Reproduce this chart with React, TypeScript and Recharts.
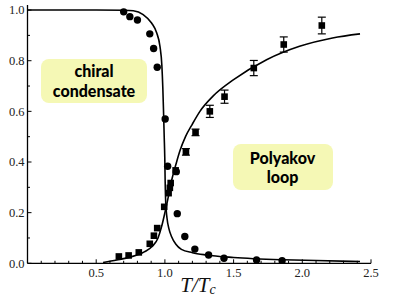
import { ComposedChart, Line, Scatter, XAxis, YAxis, ErrorBar } from "recharts";

// solid model curves (T / Tc, value)
const chiralCurve = [
  { T: 0, v: 1.0 },
  { T: 0.5, v: 1.0 },
  { T: 0.7, v: 0.999 },
  { T: 0.77, v: 0.997 },
  { T: 0.842, v: 0.982 },
  { T: 0.903, v: 0.949 },
  { T: 0.94, v: 0.91 },
  { T: 0.964, v: 0.857 },
  { T: 0.978, v: 0.78 },
  { T: 0.985, v: 0.69 },
  { T: 0.99, v: 0.6 },
  { T: 0.995, v: 0.5 },
  { T: 0.999, v: 0.42 },
  { T: 1.002, v: 0.32 },
  { T: 1.006, v: 0.24 },
  { T: 1.015, v: 0.18 },
  { T: 1.03, v: 0.135 },
  { T: 1.048, v: 0.106 },
  { T: 1.08, v: 0.075 },
  { T: 1.12, v: 0.055 },
  { T: 1.2, v: 0.042 },
  { T: 1.3, v: 0.033 },
  { T: 1.5, v: 0.023 },
  { T: 1.86, v: 0.014 },
  { T: 2.1, v: 0.011 },
  { T: 2.42, v: 0.007 },
];

const polyakovCurve = [
  { T: 0.55, v: 0.003 },
  { T: 0.65, v: 0.013 },
  { T: 0.75, v: 0.025 },
  { T: 0.85, v: 0.045 },
  { T: 0.91, v: 0.068 },
  { T: 0.95, v: 0.1 },
  { T: 0.976, v: 0.145 },
  { T: 1.0, v: 0.2 },
  { T: 1.02, v: 0.25 },
  { T: 1.05, v: 0.33 },
  { T: 1.08, v: 0.39 },
  { T: 1.11, v: 0.445 },
  { T: 1.15, v: 0.5 },
  { T: 1.2, v: 0.55 },
  { T: 1.255, v: 0.6 },
  { T: 1.35, v: 0.66 },
  { T: 1.5, v: 0.725 },
  { T: 1.74, v: 0.804 },
  { T: 1.98, v: 0.857 },
  { T: 2.22, v: 0.89 },
  { T: 2.42, v: 0.906 },
];

// lattice points
const chiralPoints = [
  { T: 0.7, v: 0.993 },
  { T: 0.745, v: 0.974 },
  { T: 0.8, v: 0.961 },
  { T: 0.89, v: 0.906 },
  { T: 0.918, v: 0.848 },
  { T: 0.944, v: 0.774 },
  { T: 1.002, v: 0.57 },
  { T: 1.02, v: 0.383 },
  { T: 1.083, v: 0.362 },
  { T: 1.09, v: 0.196 },
  { T: 1.145, v: 0.106 },
  { T: 1.218, v: 0.056 },
  { T: 1.318, v: 0.033 },
  { T: 1.43, v: 0.02 },
  { T: 1.667, v: 0.013 },
  { T: 1.853, v: 0.01 },
];

const polyakovPoints = [
  { T: 0.665, v: 0.027, err: 0 },
  { T: 0.736, v: 0.031, err: 0 },
  { T: 0.81, v: 0.043, err: 0 },
  { T: 0.89, v: 0.077, err: 0 },
  { T: 0.92, v: 0.109, err: 0 },
  { T: 0.944, v: 0.139, err: 0 },
  { T: 0.995, v: 0.223, err: 0 },
  { T: 1.027, v: 0.277, err: 0 },
  { T: 1.036, v: 0.298, err: 0 },
  { T: 1.042, v: 0.317, err: 0 },
  { T: 1.078, v: 0.367, err: 0 },
  { T: 1.153, v: 0.44, err: 0.013 },
  { T: 1.223, v: 0.517, err: 0.013 },
  { T: 1.327, v: 0.6, err: 0.024 },
  { T: 1.434, v: 0.658, err: 0.026 },
  { T: 1.647, v: 0.771, err: 0.03 },
  { T: 1.865, v: 0.864, err: 0.03 },
  { T: 2.142, v: 0.939, err: 0.033 },
];

const xTicks = [
  0, 0.1, 0.2, 0.3, 0.4, 0.5, 0.6, 0.7, 0.8, 0.9, 1.0, 1.1, 1.2, 1.3, 1.4,
  1.5, 1.6, 1.7, 1.8, 1.9, 2.0, 2.1, 2.2, 2.3, 2.4, 2.5,
];
const xLabels = [0.5, 1.0, 1.5, 2.0, 2.5];
const yTicks = [0, 0.1, 0.2, 0.3, 0.4, 0.5, 0.6, 0.7, 0.8, 0.9, 1.0];
const yLabels = [0, 0.2, 0.4, 0.6, 0.8, 1.0];

const serif = "'Liberation Serif', 'Times New Roman', serif";
const inList = (list: number[], v: number) => list.some((t) => Math.abs(t - v) < 1e-6);

function BottomTick({ x, y, payload }: any) {
  const major = inList(xLabels, payload.value);
  return (
    <g>
      <line x1={x} x2={x} y1={y} y2={y - (major ? 4 : 2.5)} stroke="#000" />
      {major && (
        <text x={x} y={y + 13.5} textAnchor="middle" fontFamily={serif} fontSize={12.5} fill="#222">
          {payload.value.toFixed(1)}
        </text>
      )}
    </g>
  );
}

function TopTick({ x, y, payload }: any) {
  const major = inList(xLabels, payload.value);
  return <line x1={x} x2={x} y1={y} y2={y + (major ? 4 : 2.5)} stroke="#000" />;
}

function LeftTick({ x, y, payload }: any) {
  const major = inList(yLabels, payload.value);
  return (
    <g>
      <line x1={x} x2={x + (major ? 4 : 2.5)} y1={y} y2={y} stroke="#000" />
      {major && (
        <text x={x - 3} y={y + 4.3} textAnchor="end" fontFamily={serif} fontSize={12.5} fill="#222">
          {payload.value.toFixed(1)}
        </text>
      )}
    </g>
  );
}

function RightTick({ x, y, payload }: any) {
  const major = inList(yLabels, payload.value);
  return <line x1={x} x2={x - (major ? 4 : 3)} y1={y} y2={y} stroke="#000" />;
}

const Dot = (p: any) => <circle cx={p.cx} cy={p.cy} r={3.7} fill="#000" />;
const Square = (p: any) => (
  <rect x={p.cx - 3.3} y={p.cy - 3.3} width={6.6} height={6.6} fill="#000" />
);

const boxStyle: React.CSSProperties = {
  position: "absolute",
  background: "#f5f8b5",
  borderRadius: 8,
  display: "flex",
  flexDirection: "column",
  alignItems: "center",
  justifyContent: "center",
  textAlign: "center",
  fontFamily: "Lato, 'Open Sans', sans-serif",
  fontWeight: 900,
  fontSize: 16,
  lineHeight: "19.5px",
  color: "#000",
};

export default function App() {
  return (
    <div style={{ position: "absolute", left: 0, top: 0, width: 398, height: 299, background: "#fff" }}>
      <ComposedChart width={398} height={299} margin={{ top: 5, right: 27, left: 0, bottom: 0 }}>
        <XAxis
          dataKey="T"
          type="number"
          domain={[0, 2.5]}
          ticks={xTicks}
          interval={0}
          allowDataOverflow
          height={35.7}
          tickSize={0}
          tickMargin={0}
          tickLine={false}
          tick={<BottomTick />}
          axisLine={{ stroke: "#000", strokeWidth: 1.3 }}
          label={{
            content: () => (
              <text x={198} y={292} textAnchor="middle" fontFamily={serif} fontStyle="italic" fontSize={21} fill="#111">
                T/T
                <tspan fontSize={14} dy={2}>c</tspan>
              </text>
            ),
          }}
        />
        <XAxis
          xAxisId="top"
          orientation="top"
          type="number"
          domain={[0, 2.5]}
          ticks={xTicks}
          interval={0}
          allowDataOverflow
          height={0}
          tickSize={0}
          tickMargin={0}
          tickLine={false}
          tick={<TopTick />}
          axisLine={{ stroke: "#000", strokeWidth: 1.3 }}
        />
        <YAxis
          dataKey="v"
          type="number"
          domain={[0, 1.02]}
          ticks={yTicks}
          interval={0}
          allowDataOverflow
          width={27.5}
          tickSize={0}
          tickMargin={0}
          tickLine={false}
          tick={<LeftTick />}
          axisLine={{ stroke: "#000", strokeWidth: 1.3 }}
        />
        <YAxis
          yAxisId="right"
          orientation="right"
          type="number"
          domain={[0, 1.02]}
          ticks={yTicks}
          interval={0}
          allowDataOverflow
          width={0}
          tickSize={0}
          tickMargin={0}
          tickLine={false}
          tick={<RightTick />}
          axisLine={{ stroke: "#000", strokeWidth: 1.3 }}
        />
        <Line
          data={chiralCurve}
          dataKey="v"
          type="monotone"
          stroke="#000"
          strokeWidth={1.6}
          dot={false}
          activeDot={false}
          isAnimationActive={false}
        />
        <Line
          data={polyakovCurve}
          dataKey="v"
          type="monotone"
          stroke="#000"
          strokeWidth={1.6}
          dot={false}
          activeDot={false}
          isAnimationActive={false}
        />
        <Scatter data={chiralPoints} dataKey="v" shape={Dot} isAnimationActive={false} />
        <Scatter data={polyakovPoints} dataKey="v" shape={Square} isAnimationActive={false}>
          <ErrorBar dataKey="err" direction="y" width={4} stroke="#000" strokeWidth={1.2} />
        </Scatter>
      </ComposedChart>
      <div style={{ ...boxStyle, left: 41, top: 58.5, width: 106, height: 44.5 }}>
        <span>chiral</span>
        <span>condensate</span>
      </div>
      <div style={{ ...boxStyle, left: 232.5, top: 144, width: 100, height: 46 }}>
        <span>Polyakov</span>
        <span>loop</span>
      </div>
    </div>
  );
}
